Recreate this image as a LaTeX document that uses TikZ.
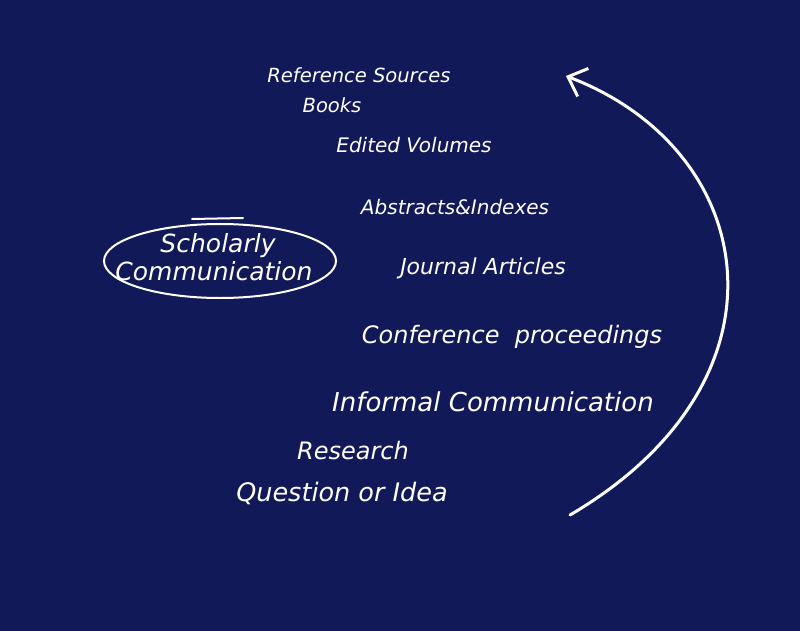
\documentclass[tikz,border=0pt]{standalone}
\usepackage{fontspec}
\setmainfont{DejaVu Sans}
\usepackage{tikz}
\usetikzlibrary{arrows.meta}
\definecolor{navybg}{RGB}{18,25,89}

\begin{document}
\begin{tikzpicture}[x=1pt,y=-1pt,every node/.style={text=white, inner sep=0pt},lbl/.style={font=\itshape\fontsize{#1}{#1}\selectfont}]
	\fill[navybg] (0,0) rectangle (800,631);
	\useasboundingbox (0,0) rectangle (800,631);
	% sources
	\node[lbl=19.5] (refsrc) at (359,75) {Reference Sources};
	\node[lbl=19.5] (books) at (332,105) {Books};
	\node[lbl=20] (edvol) at (414,145) {Edited Volumes};
	\node[lbl=20] (abstr) at (455,207) {Abstracts\&Indexes};
	\node[lbl=22] (jarts) at (483,268) {Journal Articles};
	\node[lbl=24] (confp) at (512,337) {Conference\ \ proceedings};
	\node[lbl=26] (informal) at (493,402) {Informal Communication};
	\node[lbl=24] (research) at (353,451) {Research};
	\node[lbl=25.5] (question) at (342,493) {Question or Idea};
	% circled title
	\node[lbl=25] (scholarly) at (218,246) {Scholarly};
	\node[lbl=25] (communic) at (214,271) {Communication};
	\draw[white, line width=2pt] (220,261) ellipse [x radius=116, y radius=37];
	\draw[white, line width=2pt, line cap=round] (192,219) -- (243,218);
	% cycle arrow
	\coordinate (start) at (570,515);
	\coordinate (tip) at (566,76);
	\draw[white, line width=3pt, line cap=round, -{Straight Barb[length=16pt, width=30pt]}] (start) .. controls (800,380) and (760,150) .. (tip);
\end{tikzpicture}
\end{document}
